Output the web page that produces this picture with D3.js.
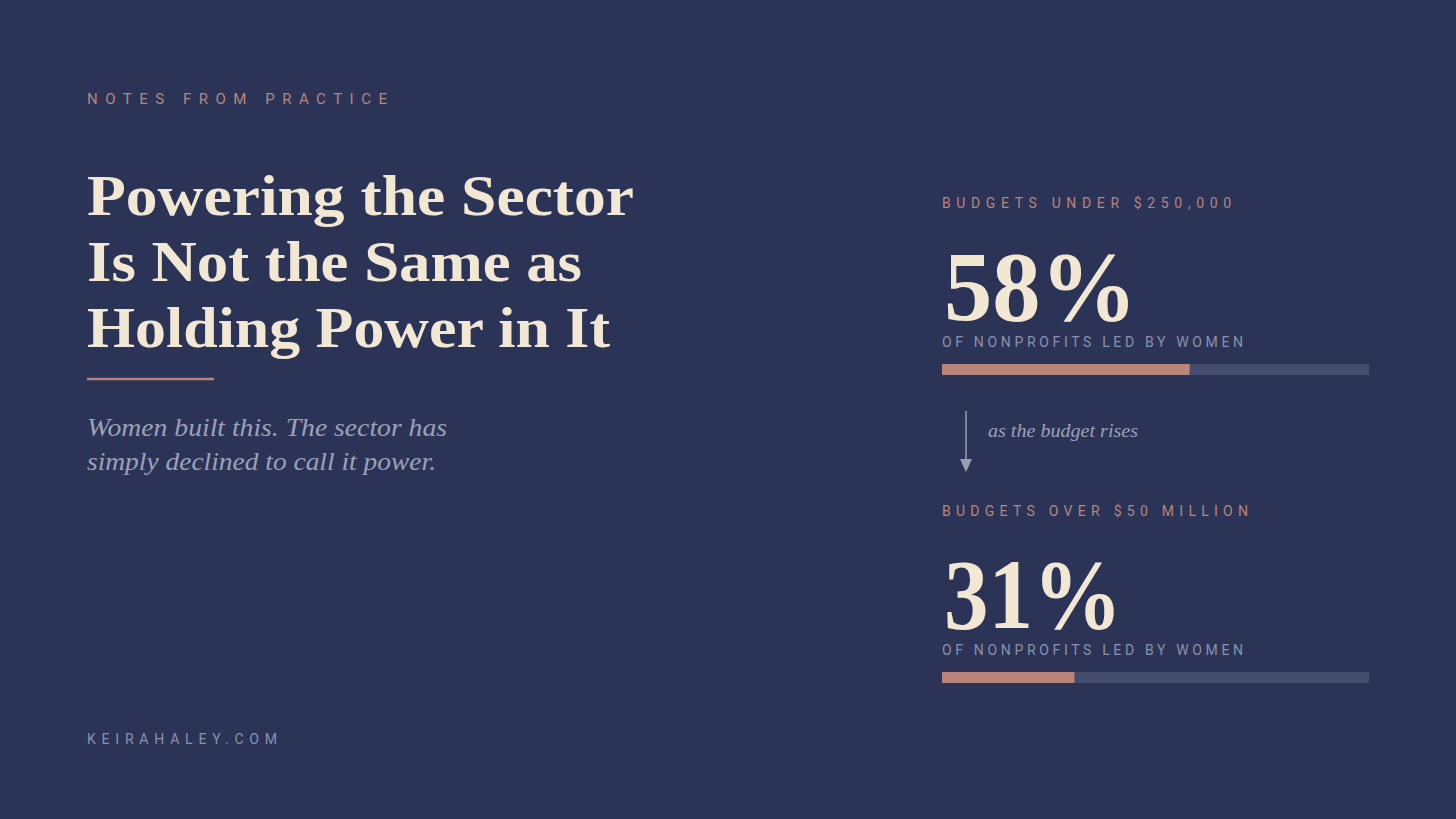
<!DOCTYPE html>
<html><head><meta charset="utf-8">
<script src="https://cdn.jsdelivr.net/npm/d3@7"></script>
<style>
html,body{margin:0;padding:0;background:#2b3457;}
svg{display:block;}
</style></head>
<body>
<svg id="c" width="1456" height="819"></svg>
<script>
// ---- data ----
const kicker = "NOTES FROM PRACTICE";
const titleLines = ["Powering the Sector", "Is Not the Same as", "Holding Power in It"];
const subtitleLines = ["Women built this. The sector has", "simply declined to call it power."];
const footer = "KEIRAHALEY.COM";
const categories = ["BUDGETS UNDER $250,000", "BUDGETS OVER $50 MILLION"];
const values = [58, 31];
const valueCaption = "OF NONPROFITS LED BY WOMEN";
const transitionNote = "as the budget rises";

// ---- style ----
const BG = "#2b3457", CREAM = "#f1e7d3", ROSE = "#b9857a", MUTED = "#8b91ab", TRACK = "#444d6d", SUB = "#9ca1b8";
const SANS = "Roboto, 'DejaVu Sans', sans-serif";
const SERIF = "'Liberation Serif', 'DejaVu Serif', serif";

const svg = d3.select("#c");
svg.append("rect").attr("width", 1456).attr("height", 819).attr("fill", BG);

function fitText(sel, w, adj) {
  sel.attr("textLength", w).attr("lengthAdjust", adj || "spacing");
  return sel;
}

// kicker
fitText(svg.append("text").attr("x", 87).attr("y", 104).attr("fill", ROSE)
  .attr("font-family", SANS).attr("font-size", 15).text(kicker), 300);

// title
const titleW = [547, 495, 523];
svg.selectAll("text.title").data(titleLines).join("text").attr("class", "title")
  .attr("x", 87).attr("y", (d, i) => 215 + i * 66)
  .attr("fill", CREAM).attr("font-family", SERIF).attr("font-weight", 700)
  .attr("font-size", 58).text(d => d)
  .each(function (d, i) { fitText(d3.select(this), titleW[i], "spacingAndGlyphs"); });

// divider
svg.append("line").attr("x1", 87).attr("x2", 214).attr("y1", 379).attr("y2", 379)
  .attr("stroke", ROSE).attr("stroke-width", 2.5);

// subtitle
const subW = [360, 349];
svg.selectAll("text.sub").data(subtitleLines).join("text").attr("class", "sub")
  .attr("x", 87).attr("y", (d, i) => 436 + i * 34)
  .attr("fill", SUB).attr("font-family", SERIF).attr("font-style", "italic")
  .attr("font-size", 25).text(d => d)
  .each(function (d, i) { fitText(d3.select(this), subW[i], "spacingAndGlyphs"); });

// footer
fitText(svg.append("text").attr("x", 87).attr("y", 744).attr("fill", MUTED)
  .attr("font-family", SANS).attr("font-size", 14).text(footer), 190);

// stat blocks
const x = d3.scaleLinear().domain([0, 100]).range([942, 1369]);
const blockY = d3.scalePoint().domain(categories).range([0, 308]);
const labelW = [289, 306];
const numW = [193, 178];

const g = svg.selectAll("g.stat").data(categories).join("g").attr("class", "stat")
  .attr("transform", d => `translate(0,${blockY(d)})`);

g.append("text").attr("x", x(0)).attr("y", 208).attr("fill", ROSE)
  .attr("font-family", SANS).attr("font-size", 14).text(d => d)
  .each(function (d, i) { fitText(d3.select(this), labelW[i]); });

g.append("text").attr("x", x(0) + 2).attr("y", 320).attr("fill", CREAM)
  .attr("font-family", SERIF).attr("font-weight", 700).attr("font-size", 100)
  .text((d, i) => values[i] + "%")
  .each(function (d, i) { fitText(d3.select(this), numW[i], "spacingAndGlyphs"); });

g.append("text").attr("x", x(0)).attr("y", 347).attr("fill", MUTED)
  .attr("font-family", SANS).attr("font-size", 14).text(valueCaption)
  .each(function () { fitText(d3.select(this), 301); });

g.append("rect").attr("x", x(0)).attr("y", 364).attr("height", 11)
  .attr("width", x(100) - x(0)).attr("fill", TRACK);
g.append("rect").attr("x", x(0)).attr("y", 364).attr("height", 11)
  .attr("width", (d, i) => x(values[i]) - x(0)).attr("fill", ROSE);

// arrow
svg.append("line").attr("x1", 966).attr("x2", 966).attr("y1", 411).attr("y2", 461)
  .attr("stroke", "#9a9eb0").attr("stroke-width", 1.5);
svg.append("path").attr("d", "M960,459 L972,459 L966,472 Z").attr("fill", "#9a9eb0");
fitText(svg.append("text").attr("x", 988).attr("y", 437).attr("fill", SUB)
  .attr("font-family", SERIF).attr("font-style", "italic").attr("font-size", 19)
  .text(transitionNote), 150, "spacingAndGlyphs");
</script>
</body></html>
